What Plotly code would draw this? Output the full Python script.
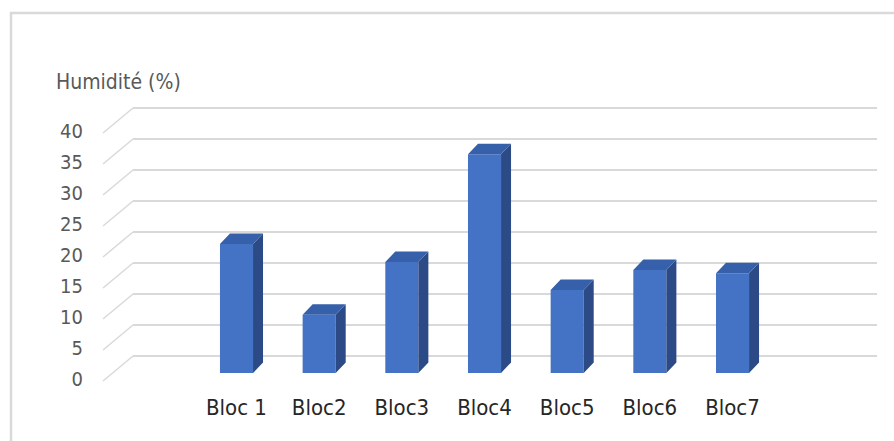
import plotly.graph_objects as go

categories = ["Bloc 1", "Bloc2", "Bloc3", "Bloc4", "Bloc5", "Bloc6", "Bloc7"]
values = [20.8, 9.4, 17.9, 35.3, 13.4, 16.6, 16.1]
y_ticks = [0, 5, 10, 15, 20, 25, 30, 35, 40]
y_title = "Humidité (%)"

W, H = 894, 441
CAT_PX = 82.67          # pixel width of one category
X0_PX = 236.5           # pixel centre of first category
PX_PER_UNIT = 6.2       # pixels per value unit
Y0_PX = 373             # pixel of value 0 on bar front face

def px_to_x(px):
    return (px - X0_PX) / CAT_PX

def px_to_y(px):
    return (Y0_PX - px) / PX_PER_UNIT

FONT = "DejaVu Sans Condensed, Liberation Sans Narrow, sans-serif"

bar_w = 0.4
ddx = 10 / CAT_PX                 # bar depth in x units
ddy = 10.5 / PX_PER_UNIT          # bar depth in y units
wall_dy = 17 / PX_PER_UNIT        # back wall offset
floor_dy = -8 / PX_PER_UNIT       # front floor edge offset
x_front = px_to_x(103)
x_back = px_to_x(133)
x_end = px_to_x(877)

fig = go.Figure()

xs = list(range(len(categories)))

# side faces
sx, sy = [], []
for i, v in zip(xs, values):
    r = i + bar_w / 2
    sx += [r, r + ddx, r + ddx, r, r, None]
    sy += [0, ddy, v + ddy, v, 0, None]
fig.add_trace(go.Scatter(x=sx, y=sy, fill="toself", fillcolor="#2C4B86",
                         line=dict(width=0), mode="lines", hoverinfo="skip",
                         showlegend=False))
# top faces
tx, ty = [], []
for i, v in zip(xs, values):
    l, r = i - bar_w / 2, i + bar_w / 2
    tx += [l, r, r + ddx, l + ddx, l, None]
    ty += [v, v, v + ddy, v + ddy, v, None]
fig.add_trace(go.Scatter(x=tx, y=ty, fill="toself", fillcolor="#3760AB",
                         line=dict(width=0), mode="lines", hoverinfo="skip",
                         showlegend=False))
# front faces
fig.add_trace(go.Bar(x=xs, y=values, width=bar_w, marker=dict(color="#4472C4", line=dict(width=0)),
                     showlegend=False))

# tick labels
fig.add_trace(go.Scatter(x=[px_to_x(83)] * len(y_ticks), y=[g + floor_dy for g in y_ticks],
                         mode="text", text=[str(g) for g in y_ticks], textposition="middle left",
                         textfont=dict(family=FONT, size=20, color="#595959"),
                         hoverinfo="skip", showlegend=False))
# category labels
fig.add_trace(go.Scatter(x=xs, y=[px_to_y(409)] * len(xs), mode="text", text=categories,
                         textposition="middle center",
                         textfont=dict(family=FONT, size=22, color="#262626"),
                         hoverinfo="skip", showlegend=False))

shapes = []
for g in y_ticks:
    shapes.append(dict(type="line", xref="x", yref="y", x0=x_back, x1=x_end,
                       y0=g + wall_dy, y1=g + wall_dy, line=dict(color="#D9D9D9", width=2), layer="below"))
    shapes.append(dict(type="line", xref="x", yref="y", x0=x_front, x1=x_back,
                       y0=g + floor_dy, y1=g + wall_dy, line=dict(color="#D9D9D9", width=1.5), layer="below"))
# chart border
shapes.append(dict(type="rect", xref="paper", yref="paper", x0=11 / W, x1=1.05, y0=-0.05, y1=1 - 13 / H,
                   line=dict(color="#D9D9D9", width=2.5), layer="below"))

fig.update_layout(
    width=W, height=H, margin=dict(l=0, r=0, t=0, b=0),
    paper_bgcolor="white", plot_bgcolor="white",
    xaxis=dict(range=[px_to_x(0), px_to_x(W)], visible=False, fixedrange=True),
    yaxis=dict(range=[px_to_y(H), px_to_y(0)], visible=False, fixedrange=True),
    shapes=shapes,
    annotations=[dict(text=y_title, xref="paper", yref="paper", x=54 / W, y=1 - 82 / H,
                      xanchor="left", yanchor="middle", showarrow=False,
                      font=dict(family=FONT, size=21, color="#595959"))],
)

fig.write_html("out.html")
